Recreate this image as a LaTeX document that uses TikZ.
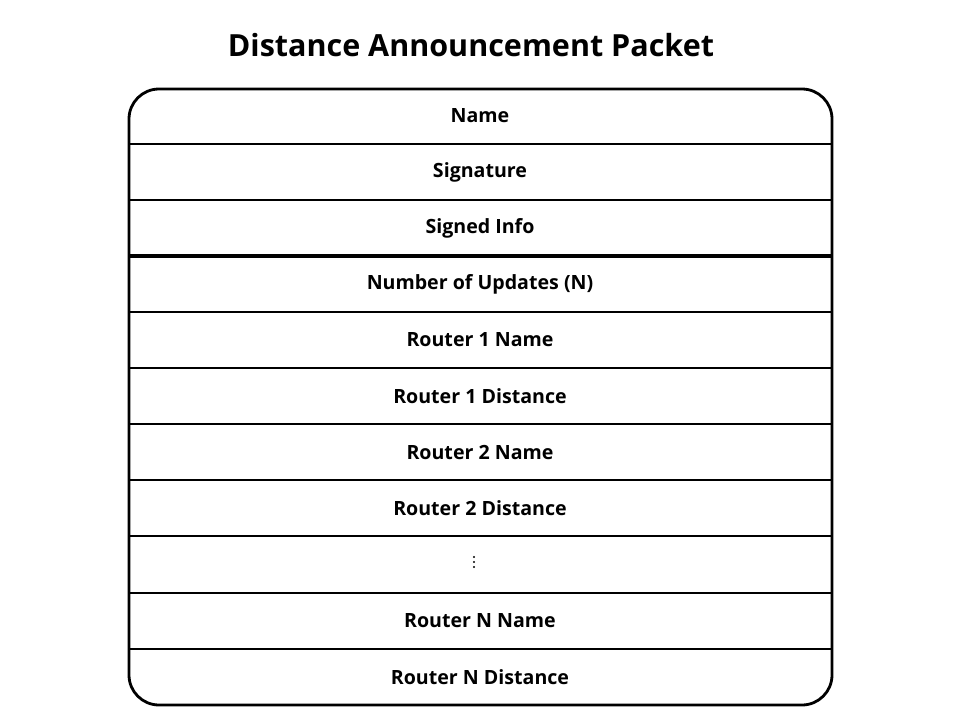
\documentclass[tikz,border=0pt]{standalone}
\usepackage{fontspec}
\setmainfont{Open Sans}
\begin{document}
\begin{tikzpicture}[x=1pt,y=-1pt,
  rowlabel/.style={font=\bfseries\fontsize{19.6}{22}\selectfont, anchor=center, inner sep=0pt},
  sep/.style={line width=2pt},
  thicksep/.style={line width=3.2pt},
  frame/.style={line width=2.8pt, rounded corners=30pt}]
\useasboundingbox (0,0) rectangle (960,720);
\node[font=\bfseries\fontsize{30.5}{34}\selectfont, inner sep=0pt] (title) at (471,45) {Distance Announcement Packet};
\coordinate (tl) at (129,89);
\coordinate (br) at (832,705);
\foreach \y in {144,200,312,368,424,480,536,593,649} {
  \draw[sep] (129,\y) -- (832,\y);
}
\draw[thicksep] (129,256) -- (832,256);
\draw[frame] (tl) rectangle (br);
\node[rowlabel] (r1) at (480,116) {Name};
\node[rowlabel] (r2) at (480,172) {Signature};
\node[rowlabel] (r3) at (480,228) {Signed Info};
\node[rowlabel] (r4) at (480,284) {Number of Updates (N)};
\node[rowlabel] (r5) at (480,340) {Router 1 Name};
\node[rowlabel] (r6) at (480,396) {Router 1 Distance};
\node[rowlabel] (r7) at (480,452) {Router 2 Name};
\node[rowlabel] (r8) at (480,508) {Router 2 Distance};
\foreach \yy in {557,562,567} { \fill (474,\yy) circle (1.1pt); }
\node[rowlabel] (r10) at (480,621) {Router N Name};
\node[rowlabel] (r11) at (480,677) {Router N Distance};
\end{tikzpicture}
\end{document}
